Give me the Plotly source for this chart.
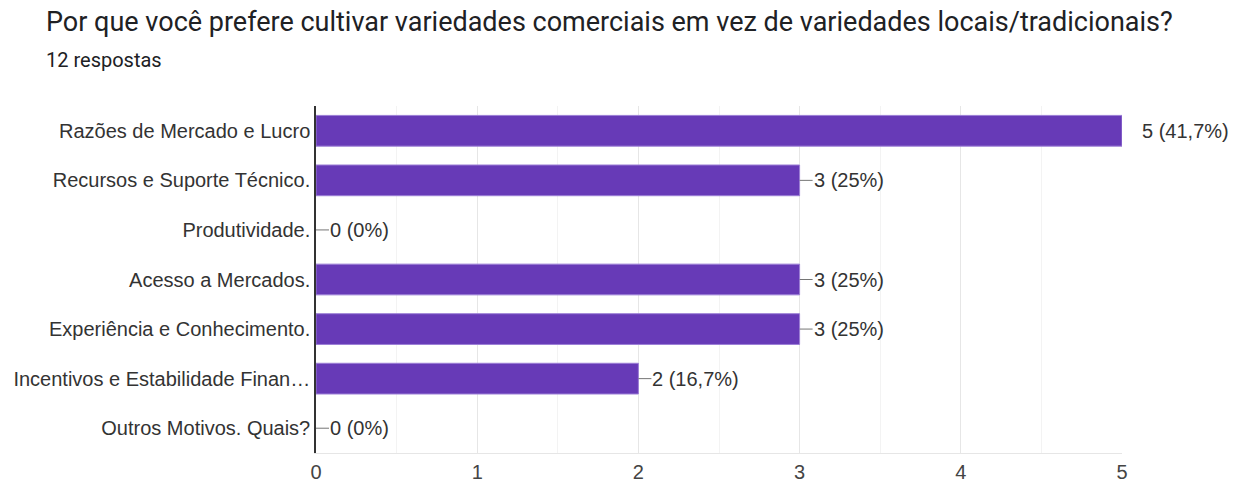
import plotly.graph_objects as go

categories = [
    "Razões de Mercado e Lucro",
    "Recursos e Suporte Técnico.",
    "Produtividade.",
    "Acesso a Mercados.",
    "Experiência e Conhecimento.",
    "Incentivos e Estabilidade Finan…",
    "Outros Motivos. Quais?",
]
counts = [5, 3, 0, 3, 3, 2, 0]
percent_labels = ["41,7%", "25%", "0%", "25%", "25%", "16,7%", "0%"]
x_ticks = [0, 1, 2, 3, 4, 5]

title_text = "Por que você prefere cultivar variedades comerciais em vez de variedades locais/tradicionais?"
subtitle_text = "12 respostas"

W, H = 1240, 486
L, R, T, B = 316, 118, 106, 33
pw, ph = W - L - R, H - T - B
CHART_FONT = "Liberation Sans, Arial, sans-serif"

fig = go.Figure()
fig.add_trace(go.Bar(
    x=counts, y=categories, orientation="h",
    marker=dict(color="#673ab7",
                line=dict(color="#9c7fd6", width=[1 if v > 0 else 0 for v in counts])),
    hoverinfo="skip",
))

max_v = max(counts)
for c, v, p in zip(categories, counts, percent_labels):
    if v < max_v:
        fig.add_shape(type="line", xref="x", yref="y", xsizemode="pixel",
                      xanchor=v, x0=0, x1=13, y0=c, y1=c,
                      line=dict(color="#757575", width=1))
        shift = 12
    else:
        shift = 18
    fig.add_annotation(x=v, y=c, xref="x", yref="y", text=f"{v} ({p})",
                       showarrow=False, xanchor="left", xshift=shift,
                       font=dict(family=CHART_FONT, size=20, color="#333333"))

fig.add_annotation(xref="paper", yref="paper", x=(44 - L) / pw, y=(H - B - 22) / ph,
                   xanchor="left", yanchor="middle", showarrow=False,
                   text=title_text,
                   font=dict(family="Roboto, Arial", size=27, color="#202124"))
fig.add_annotation(xref="paper", yref="paper", x=(44 - L) / pw, y=(H - B - 60) / ph,
                   xanchor="left", yanchor="middle", showarrow=False,
                   text=subtitle_text,
                   font=dict(family="Roboto, Arial", size=20, color="#202124"))

fig.update_layout(
    width=W, height=H,
    margin=dict(l=L, r=R, t=T, b=B, pad=0, autoexpand=False),
    paper_bgcolor="white", plot_bgcolor="white",
    bargap=0.38, showlegend=False,
    font=dict(family=CHART_FONT, size=20, color="#444444"),
)
fig.update_xaxes(
    range=[0, 5], tickvals=x_ticks, ticktext=[str(t) for t in x_ticks],
    showgrid=True, gridcolor="#e6e6e6", gridwidth=1,
    minor=dict(dtick=0.5, showgrid=True, gridcolor="#f3f3f3", gridwidth=1),
    zeroline=False, showline=True, linecolor="#e6e6e6", linewidth=1,
    ticks="", tickfont=dict(family=CHART_FONT, size=20, color="#444444"), ticklabelstandoff=1,
    fixedrange=True, automargin=False,
)
fig.update_yaxes(
    categoryorder="array", categoryarray=categories, autorange="reversed",
    showgrid=False, zeroline=False, showline=True, linecolor="#333333", linewidth=1.5,
    ticks="", tickfont=dict(family=CHART_FONT, size=20, color="#333333"), ticklabelstandoff=0,
    fixedrange=True, automargin=False,
)

fig.write_html("out.html", config={"displayModeBar": False},
               post_script="document.body.style.margin='0';")
